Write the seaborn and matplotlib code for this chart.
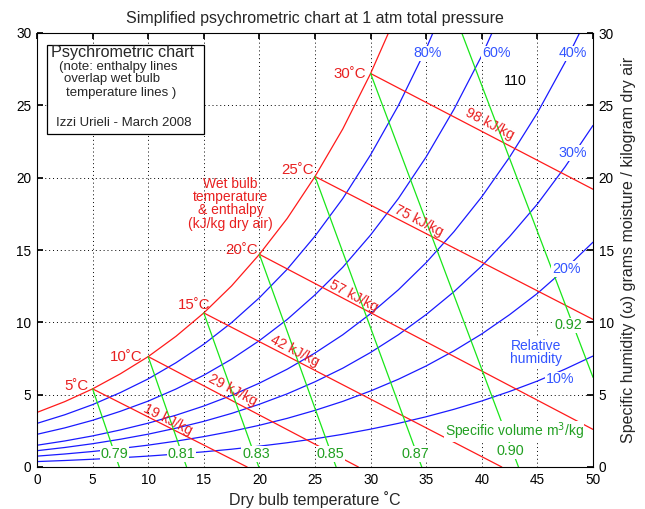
import numpy as np
import pandas as pd
import matplotlib
matplotlib.use("Agg")
import matplotlib.pyplot as plt
from matplotlib.patches import Rectangle
import seaborn as sns

temps = [0, 2.5, 5, 7.5, 10, 12.5, 15, 17.5, 20, 22.5, 25,
         27.5, 30, 32.5, 35, 37.5, 40, 42.5, 45, 47.5, 50]
nan = np.nan

# specific humidity (g/kg dry air) for each relative humidity curve
rh10 = [0.375, 0.449, 0.536, 0.638, 0.755, 0.892, 1.049, 1.230, 1.440, 1.677, 1.951,
        2.260, 2.617, 3.018, 3.474, 3.989, 4.565, 5.221, 5.940, 6.770, 7.670]
rh20 = [0.751, 0.899, 1.072, 1.278, 1.511, 1.787, 2.100, 2.465, 2.885, 3.363, 3.915,
        4.537, 5.257, 6.066, 6.987, 8.030, 9.200, 10.53, 12.00, 13.69, 15.54]
rh30 = [1.127, 1.349, 1.610, 1.919, 2.270, 2.684, 3.156, 3.705, 4.338, 5.057, 5.891,
        6.831, 7.919, 9.143, 10.54, 12.12, 13.90, 15.93, 18.18, 20.76, 23.61]
rh40 = [1.504, 1.800, 2.149, 2.562, 3.030, 3.583, 4.215, 4.950, 5.797, 6.761, 7.880,
        9.141, 10.60, 12.25, 14.13, 16.27, 18.68, 21.42, 24.48, 27.99, 31.88]
rh60 = [2.259, 2.704, 3.228, 3.851, 4.556, 5.391, 6.344, 7.455, 8.736, 10.20, 11.90,
        13.81, 16.04, 18.56, 21.44, 24.73, 28.44, 32.70, nan, nan, nan]
rh80 = [3.015, 3.611, 4.312, 5.145, 6.090, 7.208, 8.487, 9.980, 11.70, 13.67, 15.96,
        18.56, 21.58, 24.99, 28.92, 33.41, nan, nan, nan, nan, nan]
rh100 = [3.773, 4.520, 5.400, 6.444, 7.631, 9.036, 10.65, 12.52, 14.70, 17.18, 20.08,
         23.37, 27.20, 31.56, nan, nan, nan, nan, nan, nan, nan]

curve_names = ["10%", "20%", "30%", "40%", "60%", "80%", "100%"]
curve_values = [rh10, rh20, rh30, rh40, rh60, rh80, rh100]

# wet bulb / enthalpy lines: start on saturation, end on chart border
wb_temps = [5, 10, 15, 20, 25, 30]
wb_start_w = [5.40, 7.63, 10.65, 14.70, 20.08, 27.20]
wb_end_t = [18.9, 28.9, 41.8, 50, 50, 50]
wb_end_w = [0, 0, 0, 2.6, 10.2, 19.2]
enthalpy = [19, 29, 42, 57, 75, 98]

# specific volume lines (m3/kg)
vol_labels = ["0.79", "0.81", "0.83", "0.85", "0.87", "0.90", "0.92"]
vol_start_t = [5, 10, 15, 20, 25, 30, 38.2]
vol_start_w = [5.40, 7.63, 10.65, 14.70, 20.08, 27.20, 30]
vol_end_t = [7.4, 13.45, 19.95, 26.9, 34.6, 43.3, 50]
vol_end_w = [0, 0, 0, 0, 0, 0, 6.2]

# long form table for seaborn
rows = []
for name, vals in zip(curve_names, curve_values):
    for t, w in zip(temps, vals):
        rows.append({"T": t, "w": w, "curve": name})
df = pd.DataFrame(rows).dropna()

sns.set_theme(style="white")
plt.rcParams['font.family'] = ['Liberation Sans', 'DejaVu Sans']

BLUE = "#1a1aff"
RED = "#ff1a1a"
GREEN = "#19e619"
TBLUE = "#3355ff"
TRED = "#e82020"
TGREEN = "#22a022"

fig = plt.figure(figsize=(6.45, 5.09), dpi=100)
ax = fig.add_axes([37 / 645, 1 - 467 / 509, (593 - 37) / 645, (467 - 33) / 509])

palette = {n: BLUE for n in curve_names}
palette["100%"] = RED
sns.lineplot(data=df, x="T", y="w", hue="curve", palette=palette, sort=False,
             estimator=None, legend=False, lw=0.9, ax=ax)

for i in range(len(wb_temps)):
    ax.plot([wb_temps[i], wb_end_t[i]], [wb_start_w[i], wb_end_w[i]], color=RED, lw=0.9)
for i in range(len(vol_labels)):
    ax.plot([vol_start_t[i], vol_end_t[i]], [vol_start_w[i], vol_end_w[i]], color=GREEN, lw=0.9)

ax.set_xlim(0, 50)
ax.set_ylim(0, 30)
ax.set_xticks(range(0, 51, 5))
ax.set_yticks(range(0, 31, 5))
ax.grid(True, linestyle=(0, (1, 3)), color="black", linewidth=0.7)
ax.tick_params(direction="in", length=4, top=True, right=False, labelsize=9.8, pad=4,
               colors="black")
for s in ax.spines.values():
    s.set_color("black")
    s.set_linewidth(0.8)
ax.set_xlabel("Dry bulb temperature ˚C", fontsize=11.5, labelpad=3)
ax.set_ylabel("")
ax.set_title("Simplified psychrometric chart at 1 atm total pressure", fontsize=11.5, pad=7)

ax2 = ax.twinx()
ax2.set_ylim(0, 30)
ax2.set_yticks(range(0, 31, 5))
ax2.tick_params(direction="in", length=4, labelsize=9.8, pad=4, colors="black")
ax2.set_ylabel("Specific humidity (ω) grams moisture / kilogram dry air", fontsize=11.5,
               labelpad=5)
ax2.grid(False)
for s in ax2.spines.values():
    s.set_visible(False)

bg = dict(facecolor="white", edgecolor="none", pad=0.5)

# relative humidity labels
rh_label_pos = {"80%": (35.1, 28.6), "60%": (41.3, 28.6), "40%": (48.2, 28.6),
                "30%": (48.2, 21.7), "20%": (47.6, 13.7), "10%": (47.0, 6.06)}
for lab, (x, y) in rh_label_pos.items():
    ax.text(x, y, lab, color=TBLUE, fontsize=10.3, ha="center", va="center", bbox=bg)
ax.text(44.9, 7.9, "Relative\nhumidity", color=TBLUE, fontsize=10, ha="center",
        va="center", linespacing=0.95, bbox=bg)

# wet bulb temperature labels
wb_label_pos = [(3.5, 5.6), (8.0, 7.6), (14.1, 11.2), (18.4, 15.0), (23.4, 20.5), (28.1, 27.2)]
for t, (x, y) in zip(wb_temps, wb_label_pos):
    ax.text(x, y, f"{t}˚C", color=TRED, fontsize=10.8, ha="center", va="center")

# enthalpy labels along the lines
h_label_pos = [(11.8, 3.3), (17.6, 5.3), (23.2, 8.05), (28.5, 11.8), (34.3, 17.0), (40.7, 23.7)]
for i, (x, y) in enumerate(h_label_pos):
    ang = np.degrees(np.arctan2(wb_end_w[i] - wb_start_w[i], wb_end_t[i] - wb_temps[i]))
    ax.text(x, y, f"{enthalpy[i]} kJ/kg", color=TRED, fontsize=10.2, ha="center",
            va="center", rotation=ang, transform_rotates_text=True,
            rotation_mode="anchor")
ax.text(17.4, 18.2, "Wet bulb\ntemperature\n& enthalpy\n(kJ/kg dry air)", color=TRED,
        fontsize=10, ha="center", va="center", linespacing=0.95)
ax.text(43.0, 26.7, "110", color="black", fontsize=10.3, ha="center", va="center")

# specific volume labels
vol_label_pos = [(7.0, 0.9), (13.0, 0.9), (19.7, 0.9), (26.4, 0.9), (34.0, 0.9),
                 (42.6, 1.1), (47.8, 9.8)]
for lab, (x, y) in zip(vol_labels, vol_label_pos):
    ax.text(x, y, lab, color=TGREEN, fontsize=10.4, ha="center", va="center", bbox=bg)
ax.text(42.9, 2.45, "Specific volume m$^3$/kg", color=TGREEN, fontsize=10,
        ha="center", va="center", bbox=dict(facecolor="white", edgecolor="none", pad=0.1))

# info box
ax.add_patch(Rectangle((0.9, 23.05), 14.15, 6.15, facecolor="white", edgecolor="black",
                       lw=0.9, zorder=3))
ax.text(1.26, 28.63, "Psychrometric chart", fontsize=11.6, ha="left", va="center", zorder=4)
ax.text(1.98, 27.67, "(note: enthalpy lines", fontsize=9.5, ha="left", va="center", zorder=4)
ax.text(2.43, 26.84, "overlap wet bulb", fontsize=9.5, ha="left", va="center", zorder=4)
ax.text(2.61, 25.88, "temperature lines )", fontsize=9.5, ha="left", va="center", zorder=4)
ax.text(1.71, 23.81, "Izzi Urieli - March 2008", fontsize=9.5, ha="left", va="center", zorder=4)

fig.savefig("out.png", dpi=100)
